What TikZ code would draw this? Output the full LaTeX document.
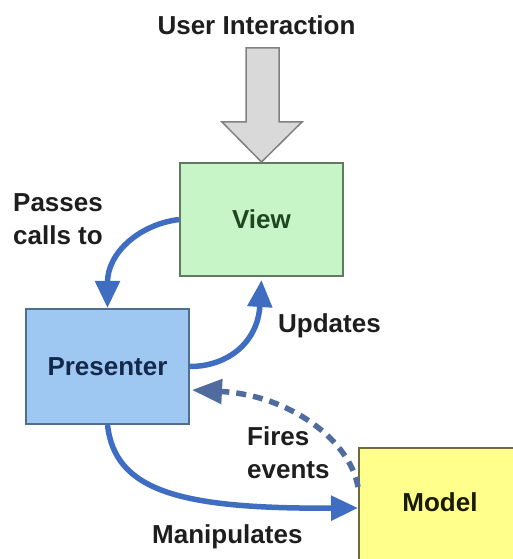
\documentclass[tikz,border=0pt]{standalone}
\usepackage{fontspec}
\setmainfont{Liberation Sans}
\usetikzlibrary{arrows.meta}

\definecolor{viewfill}{HTML}{C8F5C8}
\definecolor{viewline}{HTML}{5F7A5F}
\definecolor{viewink}{HTML}{1E4620}
\definecolor{presfill}{HTML}{9EC8F2}
\definecolor{presline}{HTML}{4D7090}
\definecolor{presink}{HTML}{14284B}
\definecolor{modelfill}{HTML}{FFFF8C}
\definecolor{modelline}{HTML}{6E6A3C}
\definecolor{modelink}{HTML}{1A1A00}
\definecolor{labelink}{HTML}{1E1E1E}
\definecolor{flowblue}{HTML}{3E6DC2}
\definecolor{eventblue}{HTML}{506B9E}
\definecolor{inputfill}{HTML}{D9D9D9}
\definecolor{inputline}{HTML}{808080}

\begin{document}
\begin{tikzpicture}[x=1pt,y=1pt,
  bigfont/.style={font=\fontsize{26}{33}\selectfont\bfseries},
  lbl/.style={bigfont, text=labelink, align=left, inner sep=0pt},
  box/.style={bigfont, draw, line width=2pt, inner sep=0pt},
  flow/.style={line width=5.5pt, draw=flowblue,
    -{Triangle[length=27pt,width=24pt]}},
  event/.style={line width=5.5pt, draw=eventblue, dash pattern=on 10pt off 7pt,
    -{Triangle[length=30pt,width=24pt]}},
  inputarrow/.style={fill=inputfill, draw=inputline, line width=1.5pt, line join=miter}]

\clip (0,0) rectangle (513,559);
\fill[white] (0,0) rectangle (513,559);

% the three boxes
\node[box, draw=viewline, fill=viewfill, text=viewink,
      minimum width=163pt, minimum height=113pt] (view) at (261.5,339.5) {View};
\node[box, draw=presline, fill=presfill, text=presink,
      minimum width=163pt, minimum height=115pt] (presenter) at (107.5,192.5) {Presenter};
\node[box, draw=modelline, fill=modelfill,
      minimum width=180pt, minimum height=140pt, anchor=north west] (model) at (358,112) {};
\node[bigfont, text=modelink, inner sep=0pt, anchor=base] (modeltext) at (440,47) {Model};

% user input arrow into the view
\node[lbl, anchor=base] (user) at (256.5,524) {User Interaction};
\coordinate (shaftTL) at (246,511);
\coordinate (shaftTR) at (279,511);
\draw[inputarrow] (shaftTL) -- (shaftTR) -- (279,437) -- (302,437) -- (view.north)
  -- (222,437) -- (246,437) -- cycle;

% connectors
\draw[flow] (view.west) .. controls +(-40,-5) and +(0,55) .. (presenter.north);
\draw[flow] (presenter.east) .. controls +(36,0) and +(-4,-64) .. ([yshift=-3pt]view.south);
\draw[event] ([yshift=-40pt]model.north west) .. controls +(-8,47) and +(97,-5)
  .. ([xshift=2pt,yshift=-23.5pt]presenter.east);
\draw[flow] (presenter.south) .. controls +(7.5,-66) and +(-178,-1) .. ([yshift=10pt]model.west);

% connector labels
\node[lbl, anchor=west] (passes) at (13,340) {Passes\\calls to};
\node[lbl, anchor=base west] (updates) at (278,226) {Updates};
\node[lbl, anchor=west] (fires) at (247,106) {Fires\\events};
\node[lbl, anchor=base west] (manip) at (152,16) {Manipulates};

\end{tikzpicture}
\end{document}
